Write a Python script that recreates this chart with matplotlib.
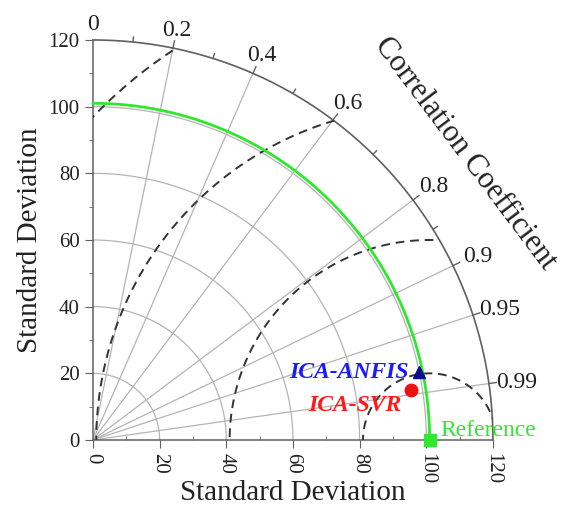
import numpy as np
import matplotlib.pyplot as plt
from matplotlib.patches import Wedge

plt.rcParams['font.family'] = ['Liberation Serif', 'DejaVu Serif']

# Data
ref_std = 101.0
model_names = ['ICA-ANFIS', 'ICA-SVR']
model_std = [99.8, 96.7]
model_corr = [0.979, 0.988]
text_colors = ['#1a1aff', '#ff1a1a']
marker_colors = ['#0c0c8c', '#ee1111']
model_markers = ['^', 'o']

std_ticks = [0, 20, 40, 60, 80, 100, 120]
std_minor = [10, 30, 50, 70, 90, 110]
std_arcs = [20, 40, 60, 80, 100]
corr_major = [0.2, 0.4, 0.6, 0.8, 0.9, 0.95, 0.99]
corr_labels = ['0', '0.2', '0.4', '0.6', '0.8', '0.9', '0.95', '0.99']
corr_minor = [0.1, 0.3, 0.5, 0.7, 0.85]
rms_levels = [20, 60, 100, 140]
std_max = 120

grid_color = '#b4b4b4'
axis_color = '#606060'
green = '#2ee82e'

fig = plt.figure(figsize=(5.75, 5.09), dpi=100)
ax = fig.add_axes([0.1617, 0.1356, 0.69565, 0.78585])
ax.set_xlim(0, std_max)
ax.set_ylim(0, std_max)

for s in ['top', 'right']:
    ax.spines[s].set_visible(False)
for s in ['left', 'bottom']:
    ax.spines[s].set_color(axis_color)
    ax.spines[s].set_linewidth(1.1)

theta = np.linspace(0, np.pi / 2, 300)

# std arcs
for s in std_arcs:
    ax.plot(s * np.cos(theta), s * np.sin(theta), color=grid_color, lw=0.9, zorder=1)

# correlation rays
for c in corr_major:
    a = np.arccos(c)
    ax.plot([0, std_max * np.cos(a)], [0, std_max * np.sin(a)], color=grid_color, lw=0.9, zorder=1)

# outer arc
ax.plot(std_max * np.cos(theta), std_max * np.sin(theta), color=axis_color, lw=1.2, clip_on=False, zorder=2)
for c in corr_major:
    a = np.arccos(c)
    ax.plot([std_max * np.cos(a), (std_max + 2.2) * np.cos(a)],
            [std_max * np.sin(a), (std_max + 2.2) * np.sin(a)], color=axis_color, lw=1, clip_on=False)
for c in corr_minor:
    a = np.arccos(c)
    ax.plot([std_max * np.cos(a), (std_max + 1.5) * np.cos(a)],
            [std_max * np.sin(a), (std_max + 1.5) * np.sin(a)], color=axis_color, lw=1, clip_on=False)

# correlation labels
for c, lab in zip([0.0] + corr_major, corr_labels):
    a = np.arccos(c)
    r = 125.5 + 3 * c
    ax.annotate(lab, (r * np.cos(a), r * np.sin(a)), xytext=(0, -2), textcoords='offset points',
                ha='center', va='center', fontsize=17, color='#222222', annotation_clip=False)

a = np.radians(37.6)
ax.text(141 * np.cos(a), 141 * np.sin(a), 'Correlation Coefficient', rotation=-53,
        rotation_mode='anchor', ha='center', va='center', fontsize=22, color='#222222')

# RMS circles
clip = Wedge((0, 0), std_max, 0, 90, transform=ax.transData)
phi = np.linspace(0, np.pi, 500)
for r in rms_levels:
    ln, = ax.plot(ref_std + r * np.cos(phi), r * np.sin(phi), color='#333333', lw=1.4,
                  ls=(0, (4.5, 3)), zorder=3)
    ln.set_clip_path(clip)

# reference
ax.plot(ref_std * np.cos(theta), ref_std * np.sin(theta), color=green, lw=2, clip_on=False, zorder=4)
ax.plot([ref_std], [0], 's', color=green, ms=8, clip_on=False, zorder=6)
ax.annotate('Reference', (ref_std, 0), xytext=(8, 7), textcoords='offset points',
            ha='left', va='center', color=green, fontsize=17)

# models
for name, s, c, tc, mc, mk in zip(model_names, model_std, model_corr, text_colors, marker_colors, model_markers):
    x, y = s * c, s * np.sin(np.arccos(c))
    ax.plot([x], [y], mk, color=mc, ms=9, zorder=7, clip_on=False)
    off = (-7, 0) if mk == '^' else (-7, -11)
    ax.annotate(name, (x, y), xytext=off, textcoords='offset points', ha='right', va='center',
                color=tc, fontsize=17, fontweight='bold', style='italic', zorder=8)

# axes ticks
ax.set_xticks(std_ticks)
ax.set_yticks(std_ticks)
ax.set_xticks(std_minor, minor=True)
ax.set_yticks(std_minor, minor=True)
ax.tick_params(axis='both', which='major', length=6, color=axis_color, labelsize=15, labelcolor='#222222')
ax.tick_params(axis='both', which='minor', length=3, color=axis_color)
ax.tick_params(axis='x', which='minor', direction='in')
ax.tick_params(axis='x', labelrotation=-90)
ax.set_xlabel('Standard Deviation', fontsize=21, color='#222222', labelpad=-3)
ax.set_ylabel('Standard Deviation', fontsize=21, color='#222222', labelpad=4)

fig.savefig('out.png', dpi=100)
